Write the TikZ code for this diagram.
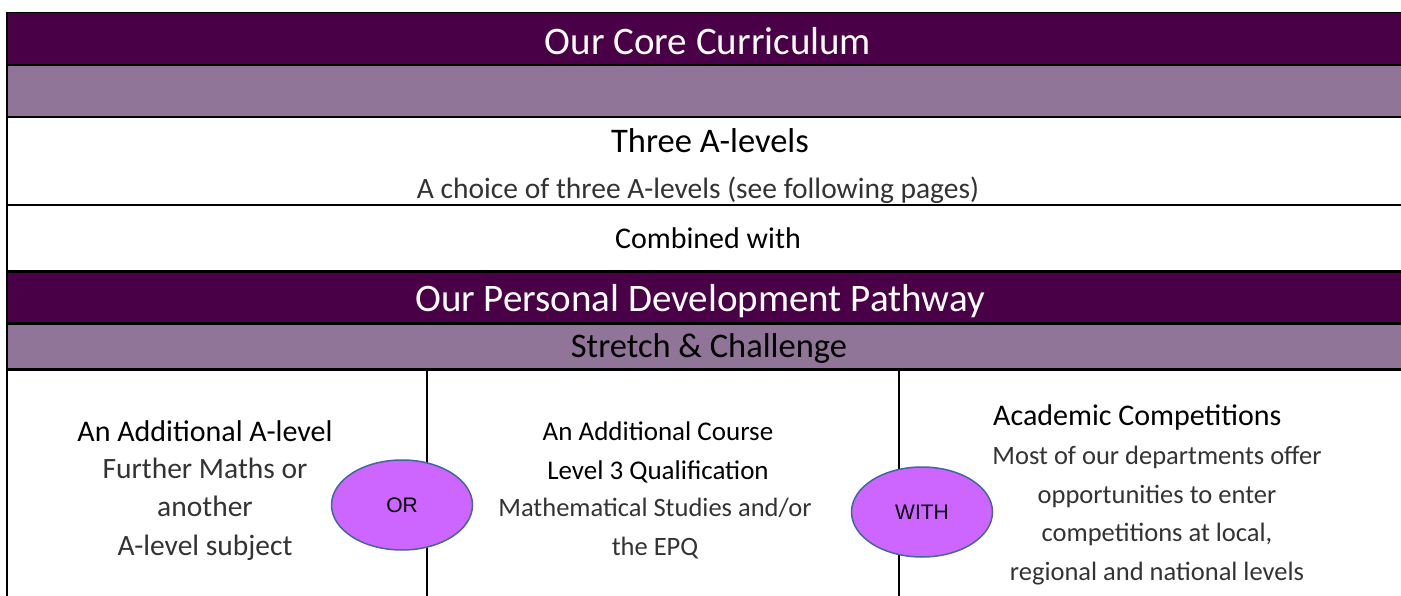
\documentclass[tikz,border=0pt]{standalone}
\usepackage{fontspec}
\setmainfont{Carlito}
\newfontfamily\ovalfont{Liberation Sans}
\usepackage{xcolor}
\definecolor{plum}{HTML}{4A0046}
\definecolor{mauve}{HTML}{917598}
\definecolor{ovalfill}{HTML}{CC66FF}
\definecolor{ovaledge}{HTML}{41679C}
\definecolor{bodygrey}{HTML}{333333}
\usepackage{tikz}
\usetikzlibrary{positioning}
\usetikzlibrary{shapes.geometric}

\tikzset{
  title/.style={anchor=base, inner sep=0, text=white, font=\fontsize{39}{48}\selectfont},
  head/.style={anchor=base, inner sep=0, align=center, font=\fontsize{30}{38.5}\selectfont},
  big head/.style={head, font=\fontsize{34.5}{40}\selectfont},
  body/.style={anchor=base, inner sep=0, align=center, text=bodygrey, font=\fontsize{26.5}{38.5}\selectfont},
  big body/.style={body, font=\fontsize{29.5}{38.5}\selectfont},
  oval/.style={ellipse, draw=ovaledge, line width=1.5, fill=ovalfill, inner sep=0,
    minimum width=141, minimum height=90, font=\ovalfont\fontsize{21}{24}\selectfont},
  thin rule/.style={line width=1.2},
  thick rule/.style={line width=2.5}
}

\begin{document}
\begin{tikzpicture}[x=1pt, y=-1pt] % Core curriculum

      \newcommand\xl{7}
      \newcommand\xr{1401}
      \newcommand\da{427}
      \newcommand\db{899}

      \useasboundingbox (0, 0) rectangle (1401, 596);

      \fill [plum] (\xl, 12.7) rectangle (\xr, 65);
      \fill [mauve] (\xl, 65) rectangle (\xr, 117);
      \fill [plum] (\xl, 271.7) rectangle (\xr, 323.3);
      \fill [mauve] (\xl, 323.3) rectangle (\xr, 369.3);

      \draw [thin rule] (\xl, 12.7) -- (\xr, 12.7);
      \draw [thin rule] (\xl, 65) -- (\xr, 65);
      \draw [thick rule] (\xl, 117) -- (\xr, 117);
      \draw [thick rule] (\xl, 205) -- (\xr, 205);
      \draw [thick rule] (\xl, 271.7) -- (\xr, 271.7);
      \draw [thick rule] (\xl, 323.3) -- (\xr, 323.3);
      \draw [thick rule] (\xl, 369.3) -- (\xr, 369.3);
      \draw [thick rule] (\xl, 12) -- (\xl, 596);
      \draw [thick rule] (\da, 369.3) -- (\da, 596);
      \draw [thick rule] (\db, 369.3) -- (\db, 596);

      \node [title] (core) at (708, 55) {Our Core Curriculum};
      \node [big head] (three) at (710, 153) {Three A-levels};
      \node [big body] (choice) at (698, 199)
      {A choice of three A-levels (see following pages)};
      \node [head] (combined) at (708, 249) {Combined with};
      \node [title] (pathway) at (700, 312) {Our Personal Development Pathway};
      \node [big head] (stretch) at (709, 357) {Stretch \& Challenge};

      \node [head] (extra) at (205, 441) {An Additional A-level};
      \node [big body] (extrabody) at (205, 555)
      {Further Maths or\\another\\A-level subject};

      \node [head, font=\fontsize{27}{38.5}\selectfont] (course) at (658, 479)
      {An Additional Course\\Level 3 Qualification};
      \node [body] (coursebody) at (655, 555)
      {Mathematical Studies and/or\\the EPQ};

      \node [head, anchor=base west] (comp) at (993, 425) {Academic Competitions};
      \node [body] (compbody) at (1157, 580)
      {Most of our departments offer\\opportunities to enter\\competitions at local,\\regional and national levels};

      \node [oval] (or) at (402, 505) {OR};
      \node [oval] (with) at (922, 512) {WITH};

    \end{tikzpicture}
\end{document}
